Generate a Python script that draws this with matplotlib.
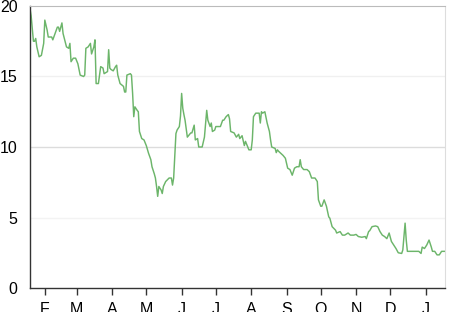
import matplotlib
matplotlib.use("Agg")
import matplotlib.pyplot as plt
import matplotlib.dates as mdates
import matplotlib.ticker as mticker
import pandas as pd

# day offsets from 2013-01-01 and the values
day_of_year = [
    18, 19, 20, 21, 22, 23, 24, 26, 28, 30, 31, 33, 34, 37, 38, 40, 42, 43, 44, 46,
    47, 50, 52, 53, 54, 56, 58, 60, 62, 65, 66, 67, 69, 71, 72, 74, 75, 76, 78, 80,
    82, 83, 86, 87, 88, 89, 91, 93, 94, 95, 97, 100, 101, 102, 103, 106, 107, 108, 109, 110,
    112, 113, 114, 116, 118, 120, 122, 124, 125, 127, 128, 129, 130, 131, 133, 134, 135, 137, 140, 142,
    143, 144, 146, 147, 149, 150, 151, 152, 153, 154, 156, 159, 160, 162, 163, 165, 166, 169, 171, 173,
    174, 176, 177, 178, 180, 181, 185, 187, 188, 190, 192, 193, 194, 197, 199, 201, 202, 204, 206, 207,
    209, 210, 212, 213, 214, 216, 219, 220, 221, 222, 224, 226, 228, 229, 230, 233, 234, 235, 236, 238,
    240, 242, 244, 246, 248, 250, 252, 254, 255, 256, 258, 261, 263, 265, 268, 270, 271, 273, 274, 276,
    278, 280, 281, 283, 286, 287, 290, 292, 294, 297, 299, 302, 304, 306, 309, 312, 313, 315, 316, 318,
    321, 323, 325, 327, 329, 331, 333, 335, 337, 339, 341, 344, 345, 347, 348, 349, 353, 359, 361, 362,
    364, 366, 368, 370, 371, 373, 375, 377, 379, 382,
]
values = [
    19.8, 19.3, 18.4, 17.5, 17.5, 17.7, 17.1, 16.4, 16.5, 17.35, 19.0, 18.3, 17.8, 17.8, 17.6, 18.05, 18.5, 18.5, 18.2, 18.8,
    18.05, 17.1, 17.0, 17.35, 16.05, 16.3, 16.3, 15.9, 15.1, 15.0, 15.1, 17.0, 17.1, 17.35, 16.6, 17.1, 17.6, 14.5, 14.5, 15.7,
    15.6, 15.2, 15.35, 16.9, 15.6, 15.5, 15.4, 15.7, 15.8, 15.1, 14.5, 14.3, 13.9, 13.9, 15.1, 15.2, 15.1, 13.8, 12.15, 12.85,
    12.6, 12.5, 11.1, 10.6, 10.5, 10.1, 9.55, 9.1, 8.6, 8.1, 7.8, 7.2, 6.5, 7.2, 6.95, 6.7, 7.2, 7.55, 7.8, 7.8,
    7.3, 7.8, 10.95, 11.2, 11.45, 12.2, 13.8, 12.75, 12.3, 11.9, 10.7, 11.0, 11.0, 11.55, 10.5, 10.6, 10.0, 10.0, 10.7, 12.6,
    11.9, 11.45, 11.7, 11.1, 11.2, 11.45, 11.45, 11.9, 11.9, 12.15, 12.3, 12.0, 11.1, 11.0, 10.7, 10.9, 10.6, 10.8, 10.1, 10.4,
    10.0, 9.8, 9.8, 10.5, 12.15, 12.4, 12.4, 11.7, 12.5, 12.4, 12.5, 11.7, 11.1, 10.5, 10.0, 9.9, 9.6, 9.8, 9.7, 9.55,
    9.4, 9.2, 8.5, 8.4, 8.0, 8.5, 8.6, 8.6, 9.1, 8.6, 8.4, 8.4, 8.25, 7.8, 7.8, 7.55, 6.25, 5.8, 5.8, 6.25,
    5.8, 5.05, 4.95, 4.35, 4.1, 3.9, 4.0, 3.75, 3.75, 3.9, 3.75, 3.75, 3.8, 3.65, 3.6, 3.65, 3.5, 4.0, 4.07, 4.35,
    4.4, 4.35, 4.0, 3.75, 3.65, 3.5, 3.9, 3.3, 3.05, 2.8, 2.5, 2.45, 2.7, 4.6, 3.4, 2.6, 2.6, 2.6, 2.45, 2.9,
    2.8, 3.05, 3.4, 2.9, 2.6, 2.6, 2.35, 2.35, 2.6, 2.6,
]
y_ticks = [0, 5, 10, 15, 20]

dates = pd.Timestamp("2013-01-01") + pd.to_timedelta(day_of_year, unit="D")

plt.rcParams["font.family"] = ["Liberation Sans", "DejaVu Sans"]

fig = plt.figure(figsize=(4.59, 3.12), dpi=100)
ax = fig.add_axes([30 / 459, 24 / 312, 415 / 459, 282 / 312])

grid_colors = {5: "#f3f3f3", 10: "#dcdcdc", 15: "#f0f0f0"}
for v, c in grid_colors.items():
    ax.axhline(v, color=c, lw=1, zorder=0)

ax.plot(dates, values, color="#6cb56a", lw=1.05)

ax.set_xlim(dates[0], dates[-1])
ax.set_ylim(0, 20)
ax.set_yticks(y_ticks)
ax.set_yticklabels([str(t) for t in y_ticks])

ax.xaxis.set_major_locator(mdates.MonthLocator())
ax.xaxis.set_major_formatter(
    mticker.FuncFormatter(lambda x, pos: mdates.num2date(x).strftime("%b")[0])
)

for side in ["left", "bottom"]:
    ax.spines[side].set_color("#333333")
    ax.spines[side].set_linewidth(1.0)
ax.spines["top"].set_color("#bbbbbb")
ax.spines["right"].set_color("#dddddd")

ax.tick_params(axis="x", length=5, width=1, color="#333333", pad=5, labelsize=11.5)
ax.tick_params(axis="y", length=0, pad=9, labelsize=11.5)

fig.savefig("out.png", dpi=100)
